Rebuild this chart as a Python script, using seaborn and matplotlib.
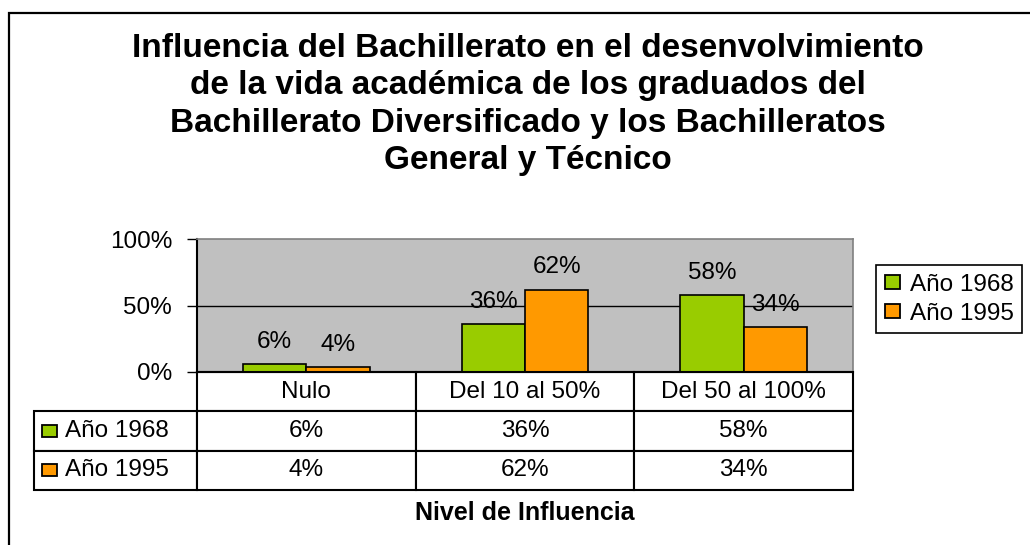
import matplotlib
matplotlib.use("Agg")
import matplotlib.pyplot as plt
from matplotlib.patches import Patch, Rectangle
import seaborn as sns
import pandas as pd

# ---- data ----
categories = ["Nulo", "Del 10 al 50%", "Del 50 al 100%"]
series_names = ["Año 1968", "Año 1995"]
values_1968 = [6, 36, 58]
values_1995 = [4, 62, 34]
ytick_values = [0, 50, 100]
ytick_labels = ["0%", "50%", "100%"]
title = ("Influencia del Bachillerato en el desenvolvimiento\n"
         "de la vida académica de los graduados del\n"
         "Bachillerato Diversificado y los Bachilleratos\n"
         "General y Técnico")
xlabel = "Nivel de Influencia"
colors = ["#99CC00", "#FF9900"]

df = pd.DataFrame({
    "Nivel": categories * 2,
    "Serie": [series_names[0]] * 3 + [series_names[1]] * 3,
    "Valor": values_1968 + values_1995,
})

sns.set_style("white")
plt.rcParams["font.family"] = ["Liberation Sans", "DejaVu Sans"]
plt.rcParams["text.color"] = "black"
plt.rcParams["axes.labelcolor"] = "black"
plt.rcParams["xtick.color"] = "black"
plt.rcParams["ytick.color"] = "black"

FS = 17.5

W, H = 1030, 545
fig = plt.figure(figsize=(W / 100, H / 100), dpi=100)
fig.patch.set_facecolor("white")

ax_l, ax_r, ax_t, ax_b = 197, 853, 239, 372
ax = fig.add_axes([ax_l / W, 1 - ax_b / H, (ax_r - ax_l) / W, (ax_b - ax_t) / H])
ax.set_facecolor("#C0C0C0")

sns.barplot(data=df, x="Nivel", y="Valor", hue="Serie", order=categories,
            hue_order=series_names, palette=colors, width=0.58, saturation=1,
            edgecolor="black", linewidth=1.2, errorbar=None, legend=False, ax=ax)

ax.set_ylim(0, 100)
ax.set_yticks(ytick_values)
ax.set_yticklabels(ytick_labels, fontsize=FS)
ax.tick_params(axis="y", direction="out", length=7, width=1, color="black", pad=11, left=True)
ax.tick_params(axis="x", bottom=False, labelbottom=False)
ax.set_xlabel("")
ax.set_ylabel("")
ax.yaxis.grid(True, color="black", linewidth=1)
gl = ax.get_ygridlines()
gl[0].set_visible(False)
gl[-1].set_visible(False)
ax.set_axisbelow(True)

for side in ["left", "bottom"]:
    ax.spines[side].set_color("black")
    ax.spines[side].set_linewidth(1.5)
for side in ["top", "right"]:
    ax.spines[side].set_color("#808080")
    ax.spines[side].set_linewidth(1.2)
    ax.spines[side].set_visible(True)

for cont, vals in zip(ax.containers, [values_1968, values_1995]):
    ax.bar_label(cont, labels=[f"{v}%" for v in vals], padding=8, fontsize=FS)

# ---- data table (first column = series labels) ----
tab_l, tab_b = 34, 490
ax_w, ax_h = ax_r - ax_l, ax_b - ax_t
bbox = [(tab_l - ax_l) / ax_w, -(tab_b - ax_b) / ax_h,
        (ax_r - tab_l) / ax_w, (tab_b - ax_b) / ax_h]
cell_text = [[series_names[0]] + [f"{v}%" for v in values_1968],
             [series_names[1]] + [f"{v}%" for v in values_1995]]
tbl = ax.table(cellText=cell_text, colLabels=[""] + categories,
               colWidths=[163, 219, 219, 219], cellLoc="center",
               colLoc="center", bbox=bbox)
tbl.auto_set_font_size(False)
tbl.set_fontsize(FS)
for (r, c), cell in tbl.get_celld().items():
    cell.set_edgecolor("black")
    cell.set_linewidth(1.5)
    cell.set_facecolor("white")
    if c == 0:
        if r == 0:
            cell.visible_edges = ""
            cell.set_facecolor("none")
        else:
            cell.PAD = 0.19
            cell.get_text().set_horizontalalignment("left")
            cell._loc = "left"

# legend keys inside table row labels
row_h = (tab_b - ax_b) / 3
for i, col in enumerate(colors):
    yc = ax_b + row_h * (i + 1.5)
    fig.add_artist(Rectangle((42 / W, 1 - (yc + 6) / H), 15 / W, 12 / H,
                             facecolor=col, edgecolor="black", linewidth=1.3,
                             transform=fig.transFigure))

# ---- legend ----
handles = [Patch(facecolor=c, edgecolor="black", linewidth=1.3) for c in colors]
leg = fig.legend(handles, series_names, loc="upper left",
                 bbox_to_anchor=(876 / W, 1 - 265 / H), bbox_transform=fig.transFigure,
                 fontsize=FS, frameon=True, fancybox=False, framealpha=1,
                 edgecolor="black", handlelength=0.65, handleheight=0.5,
                 handletextpad=0.4, labelspacing=0.3, borderpad=0.35, borderaxespad=0)
leg.get_frame().set_linewidth(1.2)

# ---- titles ----
fig.text(528 / W, 1 - 104.5 / H, title, ha="center", va="center", fontsize=24,
         fontweight="bold", multialignment="center", linespacing=1.26)
fig.text(525 / W, 1 - 513 / H, xlabel, ha="center", va="center", fontsize=18,
         fontweight="bold")

# outer chart frame
fig.add_artist(Rectangle((9 / W, -0.2), 1.5, 1 - 13 / H + 0.2, fill=False,
                         edgecolor="black", linewidth=1.6, transform=fig.transFigure))

fig.savefig("out.png", dpi=100)
